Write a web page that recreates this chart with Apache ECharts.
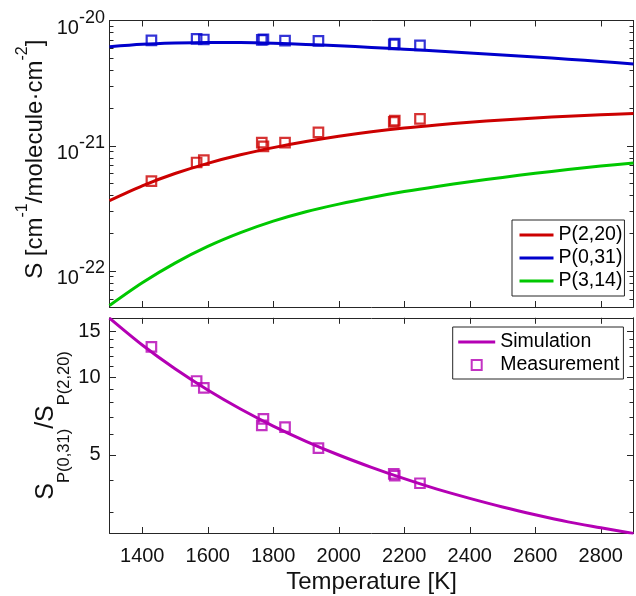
<!DOCTYPE html>
<html><head><meta charset="utf-8">
<script src="https://cdn.jsdelivr.net/npm/echarts@6/dist/echarts.min.js"></script>
<style>html,body{margin:0;padding:0;background:#fff}#c{width:636px;height:596px}</style>
</head><body><div id="c"></div>
<script>
// ---------- data ----------
const temps = [1300,1400,1500,1600,1700,1800,1900,2000,2100,2200,2300,2400,2500,2600,2700,2800,2900];
const p220Sim = [3.65e-22,4.79e-22,6.00e-22,7.24e-22,8.47e-22,9.66e-22,1.081e-21,1.191e-21,1.294e-21,1.387e-21,1.466e-21,1.538e-21,1.607e-21,1.667e-21,1.722e-21,1.770e-21,1.811e-21];
const p031Sim = [6.16e-21,6.45e-21,6.60e-21,6.68e-21,6.67e-21,6.58e-21,6.44e-21,6.28e-21,6.09e-21,5.90e-21,5.71e-21,5.51e-21,5.31e-21,5.11e-21,4.91e-21,4.71e-21,4.50e-21];
const p314Sim = [5.30e-23,8.05e-23,1.156e-22,1.570e-22,2.023e-22,2.500e-22,2.972e-22,3.420e-22,3.864e-22,4.305e-22,4.732e-22,5.152e-22,5.585e-22,6.026e-22,6.457e-22,6.887e-22,7.278e-22];
const ratioSim = [16.90,13.30,10.76,8.91,7.52,6.46,5.64,4.99,4.47,4.04,3.68,3.39,3.14,2.93,2.75,2.61,2.48];

const measT    = [1428,1566,1588,1765,1770,1836,1938,2168,2171,2248];
const p220Meas = [5.21e-22,7.35e-22,7.68e-22,1.06e-21,9.9e-22,1.06e-21,1.28e-21,1.55e-21,1.59e-21,1.64e-21];
const p031Meas = [6.95e-21,7.14e-21,7.05e-21,7.00e-21,7.08e-21,6.92e-21,6.88e-21,6.45e-21,6.55e-21,6.34e-21];
const ratioMeas = [13.07,9.65,9.07,6.50,6.89,6.40,5.31,4.22,4.15,3.88];

const xTicks = [1400,1600,1800,2000,2200,2400,2600,2800];
const topMajor = [1e-22,1e-21,1e-20];
const topMinor = [6e-23,7e-23,8e-23,9e-23,2e-22,3e-22,4e-22,5e-22,6e-22,7e-22,8e-22,9e-22,2e-21,3e-21,4e-21,5e-21,6e-21,7e-21,8e-21,9e-21];
const botMajor = [5,10,15];
const botMinor = [3,4,6,7,8,9,11,12,13,14];

// ---------- style ----------
const FONT = '"Liberation Sans", Arial, Helvetica, sans-serif';
const AX = '#262626';
const TXT = '#111';
const RED = '#cc0000', BLUE = '#0000cc', GREEN = '#00c800', MAG = '#b400b4';

function pairs(xs, ys){ return xs.map((x,i)=>[x, ys[i]]); }

function xAx(grid, pos, withLabels){
  const a = {
    type:'value', gridIndex:grid, position:pos, min:1300, max:2900,
    axisLine:{show:true,onZero:false,lineStyle:{color:AX,width:1}},
    axisTick:{show:true,inside:true,length:6,customValues:xTicks,lineStyle:{color:AX,width:1}},
    axisLabel:{show:withLabels,customValues:xTicks,fontSize:20,fontFamily:FONT,color:TXT,margin:13,
      formatter:function(v){ return String(Math.round(v)); }},
    splitLine:{show:false}
  };
  if (withLabels){
    a.name = 'Temperature [K]';
    a.nameLocation = 'middle';
    a.nameGap = 37;
    a.nameMoveOverlap = false;
    a.nameTextStyle = {fontSize:24,fontFamily:FONT,color:TXT};
  }
  return a;
}
function yAx(grid, pos, min, max, ticks, len, showLine){
  return {
    type:'log', logBase:10, gridIndex:grid, position:pos, min:min, max:max,
    axisLine:{show:showLine,onZero:false,lineStyle:{color:AX,width:1}},
    axisTick:{show:true,inside:true,length:len,customValues:ticks,lineStyle:{color:AX,width:1}},
    axisLabel:{show:false},
    splitLine:{show:false}, minorTick:{show:false}, minorSplitLine:{show:false}
  };
}

const TOPMIN = 5.16e-23, TOPMAX = 1e-20;
const BOTMIN = 2.49, BOTMAX = 16.95;

const yTopLeft = yAx(0,'left',TOPMIN,TOPMAX,topMajor,6.5,true);
yTopLeft.axisLabel = {
  show:true, customValues:topMajor, margin:4.5, padding:[6,0,0,0],
  formatter:function(v){ const e = Math.round(Math.log10(v)); return '{b|10}{s|' + e + '}'; },
  rich:{
    b:{fontSize:20,fontFamily:FONT,color:TXT,verticalAlign:'bottom'},
    s:{fontSize:18,fontFamily:FONT,color:TXT,verticalAlign:'top',padding:[0,0,11,0]}
  }
};
yTopLeft.name = '{t|S [cm}{u|-1}{t|/molecule·cm}{u|-2}{t|]}';
yTopLeft.nameLocation = 'middle';
yTopLeft.nameRotate = 90;
yTopLeft.nameGap = 62.5;
yTopLeft.nameMoveOverlap = false;
yTopLeft.nameTextStyle = {
  padding:[0,0,0,9],
  rich:{
    t:{fontSize:24,fontFamily:FONT,color:TXT,padding:[8,0,0,0],verticalAlign:'bottom'},
    u:{fontSize:16,fontFamily:FONT,color:TXT,verticalAlign:'top'}
  }
};

const yBotLeft = yAx(1,'left',BOTMIN,BOTMAX,botMajor,6.5,true);
yBotLeft.axisLabel = {show:true, customValues:botMajor, margin:9, fontSize:20, fontFamily:FONT, color:TXT,
  formatter:function(v){ return String(Math.round(v)); }};
yBotLeft.name = '{t|S}{d|P(0,31)}{t|/S}{d|P(2,20)}';
yBotLeft.nameLocation = 'middle';
yBotLeft.nameRotate = 90;
yBotLeft.nameGap = 36.8;
yBotLeft.nameMoveOverlap = false;
yBotLeft.nameTextStyle = {
  rich:{
    t:{fontSize:25,fontFamily:FONT,color:TXT,padding:[0,0,14,0],verticalAlign:'top'},
    d:{fontSize:16.5,fontFamily:FONT,color:TXT,verticalAlign:'bottom'}
  }
};

const option = {
  animation:false,
  backgroundColor:'#fff',
  textStyle:{fontFamily:FONT},
  grid:[
    {left:109.5, right:2.5, top:20.5, height:286.5, containLabel:false, outerBoundsMode:'none'},
    {left:109.5, right:2.5, top:317.8, height:215.2, containLabel:false, outerBoundsMode:'none'}
  ],
  xAxis:[ xAx(0,'bottom',false), xAx(0,'top',false), xAx(1,'bottom',true), xAx(1,'top',false) ],
  yAxis:[
    yTopLeft,
    yAx(0,'left',TOPMIN,TOPMAX,topMinor,4,false),
    yAx(0,'right',TOPMIN,TOPMAX,topMajor,6.5,true),
    yAx(0,'right',TOPMIN,TOPMAX,topMinor,4,false),
    yBotLeft,
    yAx(1,'left',BOTMIN,BOTMAX,botMinor,4,false),
    yAx(1,'right',BOTMIN,BOTMAX,botMajor,6.5,true),
    yAx(1,'right',BOTMIN,BOTMAX,botMinor,4,false)
  ],
  legend:[
    {
      data:['P(2,20)','P(0,31)','P(3,14)'],
      orient:'vertical', left:512, top:220, itemWidth:34, itemHeight:10, itemGap:3,
      padding:[5,2,5,6], borderColor:AX, borderWidth:1, borderRadius:0, backgroundColor:'#fff',
      textStyle:{fontSize:19.5,lineHeight:20,color:'#000',fontFamily:FONT},
      itemStyle:{opacity:0}, lineStyle:{width:3}, selectedMode:false
    },
    {
      data:[{name:'Simulation', itemStyle:{opacity:0}}, {name:'Measurement', icon:'path://M0 0H10V10H0Z'}],
      orient:'vertical', left:452.7, top:327, itemWidth:37, itemHeight:10, itemGap:3,
      padding:[5,4,4,4], borderColor:AX, borderWidth:1, borderRadius:0, backgroundColor:'#fff',
      textStyle:{fontSize:19.5,lineHeight:20,color:'#000',fontFamily:FONT},
      lineStyle:{width:3}, selectedMode:false
    }
  ],
  series:[
    {type:'line', name:'P(2,20)', xAxisIndex:0, yAxisIndex:0, data:pairs(temps,p220Sim), smooth:0.3,
     symbol:'none', lineStyle:{width:3,color:RED}, itemStyle:{color:RED}, z:2},
    {type:'line', name:'P(0,31)', xAxisIndex:0, yAxisIndex:0, data:pairs(temps,p031Sim), smooth:0.3,
     symbol:'none', lineStyle:{width:3,color:BLUE}, itemStyle:{color:BLUE}, z:2},
    {type:'line', name:'P(3,14)', xAxisIndex:0, yAxisIndex:0, data:pairs(temps,p314Sim), smooth:0.3,
     symbol:'none', lineStyle:{width:3,color:GREEN}, itemStyle:{color:GREEN}, z:2},
    {type:'scatter', name:'P(2,20) meas', xAxisIndex:0, yAxisIndex:0, data:pairs(measT,p220Meas), symbol:'rect', symbolSize:9.5,
     itemStyle:{color:'rgba(255,255,255,0)', borderColor:RED, borderWidth:2.2}, z:3},
    {type:'scatter', name:'P(0,31) meas', xAxisIndex:0, yAxisIndex:0, data:pairs(measT,p031Meas), symbol:'rect', symbolSize:9.5,
     itemStyle:{color:'rgba(255,255,255,0)', borderColor:BLUE, borderWidth:2.2}, z:3},
    {type:'line', name:'Simulation', xAxisIndex:2, yAxisIndex:4, data:pairs(temps,ratioSim), smooth:0.3,
     symbol:'none', lineStyle:{width:3,color:MAG}, itemStyle:{color:MAG}, z:2},
    {type:'scatter', name:'Measurement', xAxisIndex:2, yAxisIndex:4, data:pairs(measT,ratioMeas), symbol:'rect', symbolSize:9.5,
     itemStyle:{color:'rgba(255,255,255,0)', borderColor:MAG, borderWidth:2.2}, z:3}
  ]
};
const chart = echarts.init(document.getElementById('c'), null, {renderer:'canvas'});
chart.setOption(option);
</script></body></html>
